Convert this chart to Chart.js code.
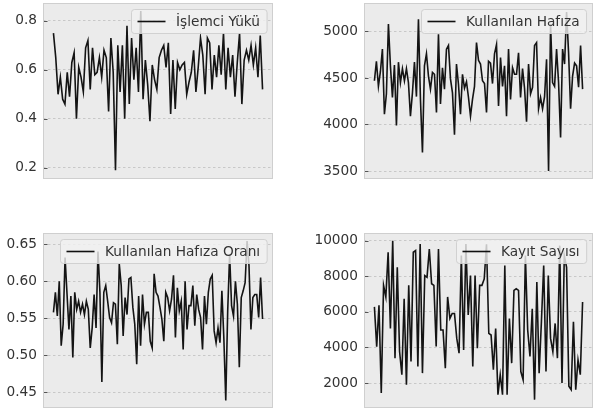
<!DOCTYPE html>
<html><head><meta charset="utf-8">
<script src="https://cdn.jsdelivr.net/npm/chart.js@4"></script>
<style>
html,body{margin:0;padding:0;background:#fff;width:601px;height:412px;overflow:hidden}
canvas{position:absolute}
</style></head><body>
<canvas id="c1" width="290" height="200" style="left:0px;top:0px"></canvas>
<canvas id="c2" width="301" height="200" style="left:300px;top:0px"></canvas>
<canvas id="c3" width="290" height="202" style="left:0px;top:210px"></canvas>
<canvas id="c4" width="301" height="202" style="left:300px;top:210px"></canvas>
<script>
// ---- data ----
const cpuLabel = 'İşlemci Yükü';
const cpuLoad = [0.75,0.65,0.50,0.57,0.48,0.46,0.59,0.49,0.63,0.67,0.40,0.61,0.57,0.51,0.69,0.72,0.52,0.69,0.58,0.59,0.65,0.57,0.68,0.65,0.43,0.73,0.59,0.19,0.70,0.51,0.70,0.40,0.78,0.46,0.73,0.56,0.69,0.51,0.84,0.48,0.64,0.54,0.39,0.62,0.56,0.52,0.65,0.68,0.70,0.61,0.71,0.42,0.64,0.44,0.63,0.60,0.62,0.63,0.50,0.55,0.59,0.68,0.51,0.61,0.73,0.66,0.50,0.73,0.71,0.52,0.66,0.57,0.70,0.58,0.75,0.52,0.69,0.57,0.66,0.49,0.63,0.75,0.46,0.64,0.68,0.64,0.70,0.62,0.69,0.57,0.74,0.52];
const cpuTicks = ['0.2','0.4','0.6','0.8'];

const memLabel = 'Kullanılan Hafıza';
const memUsed = [4470,4680,4410,4570,4810,4110,4330,5080,4630,4290,4640,3990,4670,4450,4600,4470,4600,4450,4090,4340,4670,4300,5130,4270,3700,4630,4760,4520,4380,4560,4540,4130,4970,4220,4610,4380,4810,4850,4490,4340,3890,4650,4430,4110,4540,4390,4460,4290,4090,4270,4410,4880,4690,4650,4470,4440,4130,4680,4660,4440,4760,4860,4200,4720,4410,4630,4090,4810,4270,4610,4540,4540,4770,4290,4600,4390,4030,4650,4330,4400,4850,4880,4170,4290,4170,4300,4700,3500,5080,4450,4410,4810,4450,3860,4810,4650,5210,4770,4170,4520,4660,4630,4400,4850,4380];
const memTicks = ['3500','4000','4500','5000'];

const ratioLabel = 'Kullanılan Hafıza Oranı';
const memRatio = [0.558,0.585,0.553,0.600,0.513,0.542,0.632,0.583,0.535,0.580,0.497,0.585,0.562,0.573,0.558,0.569,0.555,0.573,0.562,0.510,0.537,0.582,0.537,0.640,0.585,0.464,0.585,0.594,0.573,0.551,0.544,0.571,0.569,0.515,0.623,0.594,0.526,0.578,0.555,0.603,0.605,0.565,0.542,0.488,0.580,0.513,0.582,0.542,0.558,0.558,0.519,0.510,0.610,0.585,0.580,0.565,0.549,0.519,0.585,0.578,0.560,0.576,0.608,0.524,0.591,0.560,0.573,0.508,0.600,0.535,0.567,0.567,0.594,0.540,0.582,0.562,0.551,0.508,0.580,0.542,0.585,0.603,0.608,0.533,0.517,0.537,0.517,0.587,0.524,0.439,0.560,0.636,0.567,0.553,0.600,0.569,0.484,0.578,0.587,0.598,0.654,0.621,0.535,0.578,0.582,0.582,0.551,0.605,0.549];
const ratioTicks = ['0.45','0.50','0.55','0.60','0.65'];

const countLabel = 'Kayıt Sayısı';
const recordCount = [6280,4050,6370,1440,7490,6840,9350,5070,10000,3400,8500,3770,2470,6740,1910,7490,3210,9350,9440,2930,9810,2560,8040,7940,9530,7580,7490,4050,9530,4980,4980,2840,6840,5630,5910,5910,4510,3680,9160,3860,9810,5820,8040,2930,8040,3960,7490,7490,7850,9800,4790,4700,2750,5070,1350,2470,1350,8600,1350,5630,3120,7210,7300,7210,2650,2190,9160,4980,3490,6170,1070,7680,2560,5440,8600,2650,8040,4510,3770,5350,3400,9720,2000,9160,8500,1820,1630,5440,1630,3300,2470,6550];
const countTicks = ['2000','4000','6000','8000','10000'];

// ---- drawing ----
const FONT = '"DejaVu Sans", sans-serif';
const deco = {
  id: 'deco',
  beforeDraw(chart) {
    const a = chart.chartArea, c = chart.ctx;
    c.save(); c.fillStyle = '#ebebeb';
    c.fillRect(a.left, a.top, a.right - a.left, a.bottom - a.top);
    c.restore();
  },
  afterDatasetsDraw(chart) {
    const a = chart.chartArea, c = chart.ctx;
    const label = chart.options.plugins.deco.label;
    c.save();
    c.font = '13.7px ' + FONT;
    const tw = c.measureText(label).width;
    const h = 24, padL = 6, lineL = 28, gap = 10.5, padR = 7, r = 3;
    const w = padL + lineL + gap + tw + padR;
    const x = Math.round(a.right - 6.5 - w) + 0.5, y = Math.round(a.top + 6) + 0.5;
    c.beginPath();
    c.moveTo(x + r, y); c.lineTo(x + w - r, y); c.arcTo(x + w, y, x + w, y + r, r);
    c.lineTo(x + w, y + h - r); c.arcTo(x + w, y + h, x + w - r, y + h, r);
    c.lineTo(x + r, y + h); c.arcTo(x, y + h, x, y + h - r, r);
    c.lineTo(x, y + r); c.arcTo(x, y, x + r, y, r); c.closePath();
    c.fillStyle = 'rgba(241,241,241,0.8)'; c.fill();
    c.strokeStyle = 'rgba(205,205,205,0.9)'; c.lineWidth = 1; c.stroke();
    c.beginPath(); c.moveTo(x + padL, y + h / 2); c.lineTo(x + padL + lineL, y + h / 2);
    c.strokeStyle = '#111'; c.lineWidth = 1.6; c.stroke();
    c.fillStyle = '#333'; c.textBaseline = 'middle'; c.textAlign = 'left';
    c.fillText(label, x + padL + lineL + gap, y + h / 2 + 0.5);
    c.restore();
  },
  afterDraw(chart) {
    const a = chart.chartArea, c = chart.ctx, ys = chart.scales.y;
    c.save();
    c.strokeStyle = '#555'; c.lineWidth = 1;
    ys.ticks.forEach(t => {
      const py = Math.round(ys.getPixelForValue(t.value)) + 0.5;
      c.beginPath(); c.moveTo(a.left, py); c.lineTo(a.left + 4.5, py); c.stroke();
    });
    c.strokeStyle = '#cfcfcf'; c.lineWidth = 1;
    c.strokeRect(a.left + 0.5, a.top + 0.5, a.right - a.left - 1, a.bottom - a.top - 1);
    c.restore();
  }
};

function makeChart(id, values, label, tickLabels, yMin, yMax, axisW, pad) {
  const n = values.length;
  const idx = values.map((_, i) => i);
  const tickVals = tickLabels.map(Number);
  return new Chart(document.getElementById(id), {
    type: 'line',
    data: { labels: idx, datasets: [{ data: values, borderColor: '#141414', borderWidth: 1.6,
      pointRadius: 0, tension: 0, fill: false }] },
    options: {
      responsive: false, animation: false, devicePixelRatio: 1,
      layout: { autoPadding: false, padding: pad },
      plugins: { legend: { display: false }, tooltip: { enabled: false }, deco: { label } },
      scales: {
        x: { type: 'linear', display: false, min: -0.05 * (n - 1), max: 1.05 * (n - 1) },
        y: {
          min: yMin, max: yMax,
          afterBuildTicks: s => { s.ticks = tickVals.map(v => ({ value: v })); },
          afterFit: s => { s.width = axisW; s.paddingTop = 0; s.paddingBottom = 0; },
          ticks: { padding: 6, color: '#333', font: { family: FONT, size: 13.7 },
            callback: (v, i) => tickLabels[i] },
          grid: { color: '#c4c4c4', lineWidth: 0.9, drawTicks: false },
          border: { display: false, dash: [2.5, 2.5] }
        }
      }
    },
    plugins: [deco]
  });
}

makeChart('c1', cpuLoad, cpuLabel, cpuTicks, 0.154, 0.873, 43, { left: 0, top: 3, right: 17, bottom: 21 });
makeChart('c2', memUsed, memLabel, memTicks, 3414, 5306, 64, { left: 0, top: 3, right: 8, bottom: 21 });
makeChart('c3', memRatio, ratioLabel, ratioTicks, 0.429, 0.665, 43, { left: 0, top: 23, right: 17, bottom: 4 });
makeChart('c4', recordCount, countLabel, countTicks, 600, 10430, 64, { left: 0, top: 23, right: 8, bottom: 4 });
</script>
</body></html>
